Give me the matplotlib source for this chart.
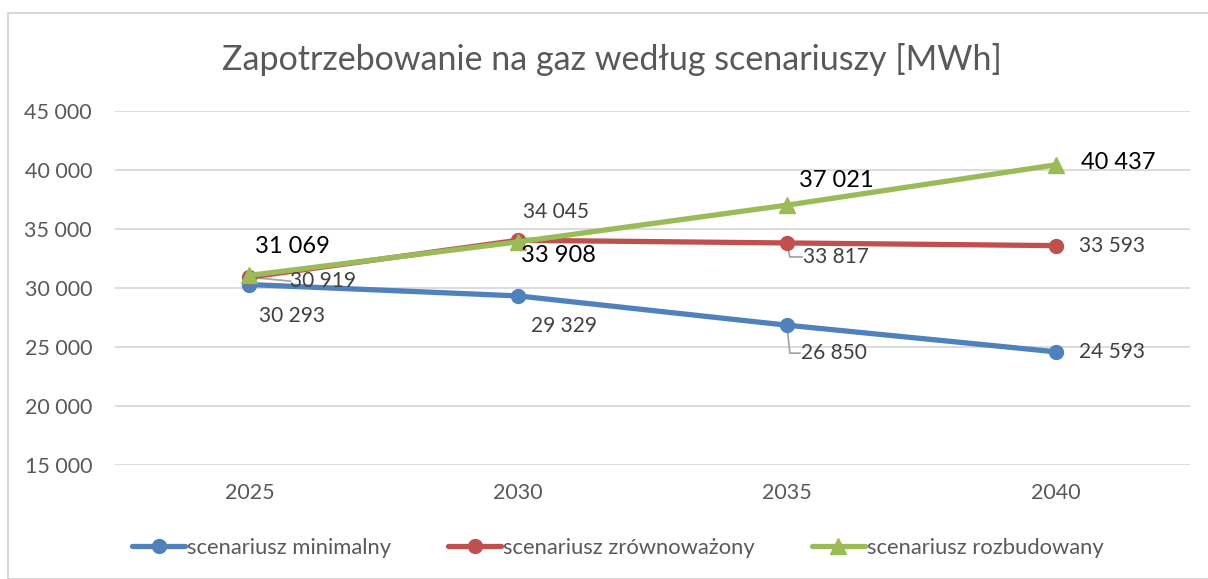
import matplotlib.pyplot as plt
from matplotlib.patches import Rectangle

plt.rcParams['font.family'] = ['Lato', 'DejaVu Sans']

# dane
lata = ['2025', '2030', '2035', '2040']
minimalny = [30293, 29329, 26850, 24593]
zrownowazony = [30919, 34045, 33817, 33593]
rozbudowany = [31069, 33908, 37021, 40437]

nazwy = ['scenariusz minimalny', 'scenariusz zrównoważony', 'scenariusz rozbudowany']
kolory = ['#4F81BD', '#C0504D', '#9BBB59']
znaczniki = ['o', 'o', '^']

# przesunięcia etykiet (piksele) i czy rysować linię odniesienia
offs_min = [(43, -31, False), (46, -30, False), (47, -28, True), (56, 0, False)]
offs_zr = [(74, -4, True), (38, 28, False), (49, -14, True), (56, 0, False)]
offs_rb = [(43, 29, False), (40, -14, False), (49, 25, False), (63, 2, False)]


def fmt(v):
    return f'{v:,}'.replace(',', ' ')


fig = plt.figure(figsize=(12.08, 5.79), dpi=100)
fig.patches.append(Rectangle((8 / 1208, 0), 1.2, 1 - 13 / 579, transform=fig.transFigure,
                             fill=False, edgecolor='#D9D9D9', lw=1.5))
ax = fig.add_axes([115 / 1208, 1 - 465 / 579, 1075 / 1208, 354 / 579])
ax.set_xlim(-0.5, 3.5)
ax.set_ylim(15000, 45000)

x = range(len(lata))
serie = [minimalny, zrownowazony, rozbudowany]
for vals, name, c, m in zip(serie, nazwy, kolory, znaczniki):
    ax.plot(x, vals, color=c, lw=3.8, marker=m, markersize=10 if m == 'o' else 12,
            label=name, zorder=3, solid_capstyle='round')

tr = ax.transData
inv = tr.inverted()
for vals, offs, col, fs in [(minimalny, offs_min, '#404040', 15),
                            (zrownowazony, offs_zr, '#404040', 15),
                            (rozbudowany, offs_rb, 'black', 17)]:
    for i, (v, (dx, dy, lead)) in enumerate(zip(vals, offs)):
        ax.annotate(fmt(v), (i, v), xytext=(dx, dy), textcoords='offset pixels',
                    ha='center', va='center', fontsize=fs, color=col, zorder=5)
        if lead:
            # linia odniesienia w pikselach
            if dy < -10:
                pts = [(0, 0), (3, dy), (dx - 34, dy)]
            else:
                pts = [(0, 0), (dx - 33, dy)]
            px, py = tr.transform((i, v))
            dpts = inv.transform([(px + a, py + b) for a, b in pts])
            ax.plot(dpts[:, 0], dpts[:, 1], color='#A6A6A6', lw=1.3, zorder=2)

ax.set_yticks(range(15000, 45001, 5000))
ax.set_yticklabels([fmt(t) for t in range(15000, 45001, 5000)])
ax.set_xticks(list(x))
ax.set_xticklabels(lata)
ax.tick_params(length=0, labelsize=15.5, labelcolor='#595959')
ax.tick_params(axis='y', pad=16.5)
ax.tick_params(axis='x', pad=13)
ax.grid(axis='y', color='#D9D9D9', lw=1.3)
ax.set_axisbelow(True)
for s in ax.spines.values():
    s.set_visible(False)

fig.text(612 / 1208, 1 - 60 / 579, 'Zapotrzebowanie na gaz według scenariuszy [MWh]',
         ha='center', va='center', fontsize=24.5, color='#595959')

fig.legend(loc='center', bbox_to_anchor=(618 / 1208, 1 - 548 / 579), ncol=3, frameon=False,
           fontsize=15.8, labelcolor='#595959', handlelength=2.4, handletextpad=0.1,
           columnspacing=2.6)

fig.savefig('out.png', dpi=100)
